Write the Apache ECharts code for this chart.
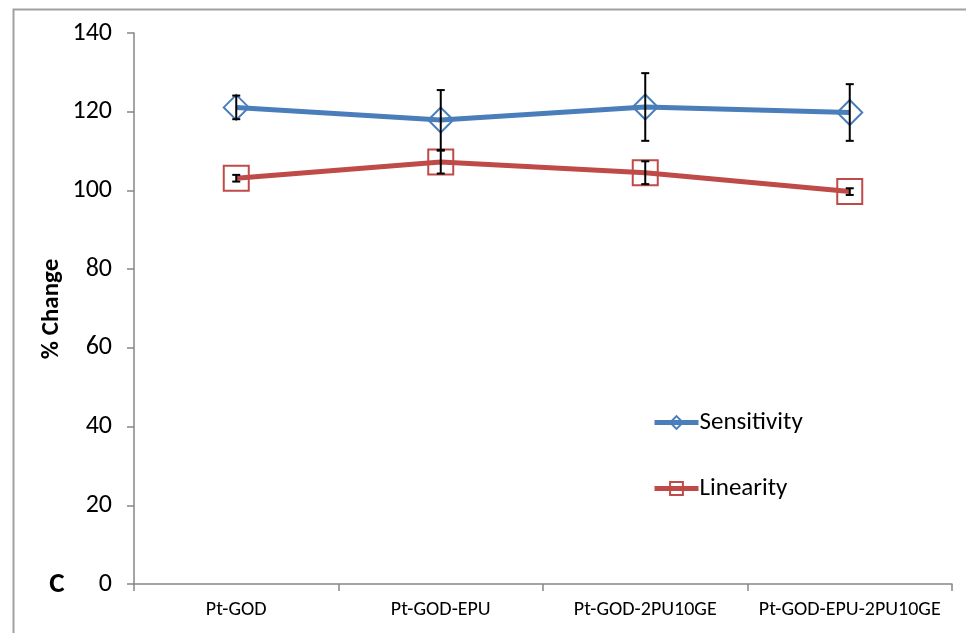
<!DOCTYPE html>
<html>
<head>
<meta charset="utf-8">
<script src="https://cdn.jsdelivr.net/npm/echarts@6/dist/echarts.min.js"></script>
<style>
  html, body { margin: 0; padding: 0; background: #fff; }
  #chart { width: 966px; height: 633px; }
</style>
</head>
<body>
<div id="chart"></div>
<script>
// Sample formulations along the x axis
const categories = ['Pt-GOD', 'Pt-GOD-EPU', 'Pt-GOD-2PU10GE', 'Pt-GOD-EPU-2PU10GE'];
// Mean % change and error (±) for each property
const sensitivity = [121.1, 117.9, 121.2, 119.8];
const sensitivityErr = [3.0, 7.6, 8.6, 7.2];
const linearity = [103.1, 107.2, 104.5, 99.7];
const linearityErr = [0.85, 2.9, 2.9, 0.85];
const yTicks = { min: 0, max: 140, step: 20 };

const FONT = 'Carlito, Lato, "Liberation Sans", sans-serif';
const BLUE = '#4a7ebb';
const RED = '#be4b48';

function errorRows(values, errs) {
  return values.map((v, i) => [i, v - errs[i], v + errs[i]]);
}

// Vertical whiskers with horizontal caps
function renderError(params, api) {
  const lo = api.coord([api.value(0), api.value(1)]);
  const hi = api.coord([api.value(0), api.value(2)]);
  const cap = 4;
  const style = { stroke: '#000', lineWidth: 2 };
  return {
    type: 'group',
    children: [
      { type: 'line', shape: { x1: lo[0], y1: lo[1], x2: hi[0], y2: hi[1] }, style },
      { type: 'line', shape: { x1: hi[0] - cap, y1: hi[1], x2: hi[0] + cap, y2: hi[1] }, style },
      { type: 'line', shape: { x1: lo[0] - cap, y1: lo[1], x2: lo[0] + cap, y2: lo[1] }, style }
    ]
  };
}

const chart = echarts.init(document.getElementById('chart'), null, { renderer: 'canvas' });
chart.setOption({
  animation: false,
  backgroundColor: '#fff',
  textStyle: { fontFamily: FONT },
  grid: { left: 134, right: 14, top: 33, bottom: 49 },
  legend: {
    orient: 'vertical',
    left: 652,
    top: 410,
    padding: 0,
    itemGap: 41,
    itemWidth: 44,
    itemHeight: 16,
    lineStyle: { width: 5 },
    textStyle: { fontFamily: FONT, fontSize: 25, color: '#000', padding: [0, 0, 0, -4] },
    data: ['Sensitivity', 'Linearity']
  },
  graphic: [
    {
      type: 'rect', left: 11, top: 7, silent: true,
      shape: { width: 980, height: 660 },
      style: { fill: 'none', stroke: '#a0a0a0', lineWidth: 2 }
    },
    {
      type: 'text', x: 52, y: 309, rotation: Math.PI / 2,
      style: { text: '% Change', fontFamily: FONT, fontSize: 25, fontWeight: 'bold', fill: '#000',
               align: 'center', verticalAlign: 'middle' }
    },
    {
      type: 'text', x: 57, y: 585,
      style: { text: 'C', fontFamily: FONT, fontSize: 29, fontWeight: 'bold', fill: '#000',
               align: 'center', verticalAlign: 'middle' }
    }
  ],
  xAxis: {
    type: 'category',
    data: categories,
    boundaryGap: true,
    axisLine: { lineStyle: { color: '#868686', width: 1.5 } },
    axisTick: { show: true, interval: 0, length: 7, lineStyle: { color: '#868686', width: 1.5 } },
    axisLabel: { interval: 0, hideOverlap: false, fontFamily: FONT, fontSize: 20, color: '#000', margin: 16 },
    splitLine: { show: false }
  },
  yAxis: {
    type: 'value',
    min: yTicks.min,
    max: yTicks.max,
    interval: yTicks.step,
    axisLine: { show: true, lineStyle: { color: '#868686', width: 1.5 } },
    axisTick: { show: true, length: 7, lineStyle: { color: '#868686', width: 1.5 } },
    axisLabel: { fontFamily: FONT, fontSize: 26, color: '#000', margin: 22 },
    splitLine: { show: false }
  },
  series: [
    {
      name: 'Sensitivity',
      type: 'line',
      data: sensitivity,
      symbol: 'diamond',
      symbolSize: 25,
      lineStyle: { color: BLUE, width: 5 },
      itemStyle: { color: 'rgba(255,255,255,0)', borderColor: BLUE, borderWidth: 2 },
      z: 3
    },
    {
      name: 'Linearity',
      type: 'line',
      data: linearity,
      symbol: 'rect',
      symbolSize: 25,
      lineStyle: { color: RED, width: 5 },
      itemStyle: { color: 'rgba(255,255,255,0)', borderColor: RED, borderWidth: 2 },
      z: 3
    },
    {
      type: 'custom',
      data: errorRows(sensitivity, sensitivityErr),
      renderItem: renderError,
      encode: { x: 0, y: [1, 2] },
      z: 5
    },
    {
      type: 'custom',
      data: errorRows(linearity, linearityErr),
      renderItem: renderError,
      encode: { x: 0, y: [1, 2] },
      z: 5
    }
  ]
});
</script>
</body>
</html>
